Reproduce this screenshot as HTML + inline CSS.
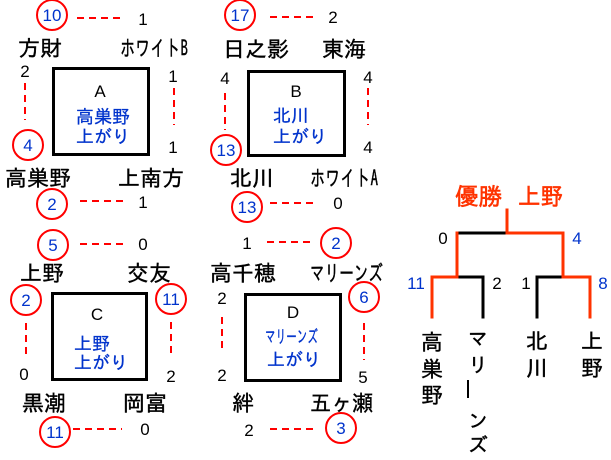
<!DOCTYPE html>
<html><head><meta charset="utf-8"><style>
html,body{margin:0;padding:0;background:#fff;}
svg{display:block;}
.j{font-family:"IPAGothic","Noto Sans CJK JP",sans-serif;}
.n{font-family:"Liberation Sans",sans-serif;font-size:17px;text-anchor:middle;}
.b{fill:#0033cc;}
.k{fill:#000;}
</style></head><body>
<svg width="611" height="460" viewBox="0 0 611 460" xmlns="http://www.w3.org/2000/svg">
<g fill="#fff" stroke="#000" stroke-width="3">
<rect x="53.5" y="68.5" width="95" height="86"/>
<rect x="248.5" y="71.5" width="96" height="84"/>
<rect x="52.5" y="293.5" width="94" height="86"/>
<rect x="245.5" y="294.5" width="95" height="86"/>
</g>
<g stroke="#ff0000" stroke-width="2" stroke-dasharray="7 5" fill="none">
<line x1="77" y1="18" x2="122" y2="18"/>
<line x1="25" y1="83" x2="25" y2="120"/>
<line x1="174" y1="88" x2="174" y2="125"/>
<line x1="80" y1="201" x2="128" y2="201"/>
<line x1="270" y1="17" x2="317" y2="17"/>
<line x1="225" y1="93" x2="225" y2="130"/>
<line x1="368" y1="88" x2="368" y2="125"/>
<line x1="270" y1="203" x2="317" y2="203"/>
<line x1="80" y1="244" x2="128" y2="244"/>
<line x1="26" y1="323" x2="26" y2="357"/>
<line x1="171" y1="322" x2="171" y2="357"/>
<line x1="73" y1="429" x2="122" y2="429"/>
<line x1="267" y1="242" x2="315" y2="242"/>
<line x1="364" y1="323" x2="364" y2="360"/>
<line x1="222" y1="317" x2="222" y2="353"/>
<line x1="270" y1="429" x2="317" y2="429"/>
</g>
<g fill="#fff" stroke="#ff0000" stroke-width="2">
<circle cx="52" cy="15" r="15"/>
<circle cx="28" cy="145" r="15"/>
<circle cx="52" cy="204" r="15"/>
<circle cx="240" cy="15" r="15"/>
<circle cx="226" cy="150" r="15"/>
<circle cx="247" cy="207" r="15"/>
<circle cx="53" cy="245" r="15"/>
<circle cx="26" cy="300" r="15"/>
<circle cx="171" cy="299" r="15"/>
<circle cx="55" cy="432" r="15"/>
<circle cx="336" cy="243" r="15"/>
<circle cx="364" cy="297" r="15"/>
<circle cx="341" cy="428" r="15"/>
</g>
<g class="n b">
<text x="52" y="21">10</text>
<text x="28" y="151">4</text>
<text x="52" y="210">2</text>
<text x="240" y="21">17</text>
<text x="226" y="156">13</text>
<text x="247" y="213">13</text>
<text x="53" y="251">5</text>
<text x="26" y="306">2</text>
<text x="171" y="305">11</text>
<text x="55" y="438">11</text>
<text x="336" y="249">2</text>
<text x="364" y="303">6</text>
<text x="341" y="434">3</text>
<text x="577" y="244">4</text>
<text x="416" y="289">11</text>
<text x="603" y="289">8</text>
</g>
<g class="n k">
<text x="143" y="25">1</text>
<text x="25" y="77">2</text>
<text x="173" y="82">1</text>
<text x="173" y="153">1</text>
<text x="143" y="208">1</text>
<text x="100" y="97">A</text>
<text x="333" y="23">2</text>
<text x="225" y="84">4</text>
<text x="368" y="83">4</text>
<text x="368" y="153">4</text>
<text x="338" y="209">0</text>
<text x="296" y="97">B</text>
<text x="143" y="250">0</text>
<text x="24" y="380">0</text>
<text x="171" y="382">2</text>
<text x="97" y="320">C</text>
<text x="145" y="435">0</text>
<text x="247" y="249">1</text>
<text x="363" y="383">5</text>
<text x="222" y="304">2</text>
<text x="222" y="381">2</text>
<text x="293" y="318">D</text>
<text x="249" y="436">2</text>
<text x="443" y="244">0</text>
<text x="497" y="289">2</text>
<text x="526" y="289">1</text>
</g>
<g class="j k" font-size="22" stroke="#000" stroke-width="0.4">
<text x="18" y="56">方財</text>
<text x="120" y="56" textLength="68" lengthAdjust="spacingAndGlyphs">ホワイトB</text>
<text x="5" y="186">高巣野</text>
<text x="118" y="186">上南方</text>
<text x="223" y="57">日之影</text>
<text x="322" y="57">東海</text>
<text x="230" y="186">北川</text>
<text x="310" y="186" textLength="68" lengthAdjust="spacingAndGlyphs">ホワイトA</text>
<text x="20" y="281">上野</text>
<text x="127" y="281">交友</text>
<text x="22" y="411">黒潮</text>
<text x="123" y="411">岡富</text>
<text x="210" y="281">高千穂</text>
<text x="310" y="281" textLength="73" lengthAdjust="spacingAndGlyphs">マリーンズ</text>
<text x="232" y="411">絆</text>
<text x="310" y="411" textLength="63" lengthAdjust="spacingAndGlyphs">五ヶ瀬</text>
</g>
<g class="j b" font-size="18" stroke="#0033cc" stroke-width="0.3">
<text x="76" y="123">高巣野</text>
<text x="76" y="143">上がり</text>
<text x="273" y="122">北川</text>
<text x="273" y="143">上がり</text>
<text x="74" y="350">上野</text>
<text x="74" y="369">上がり</text>
<text x="265" y="343" textLength="53" lengthAdjust="spacingAndGlyphs">マリーンズ</text>
<text x="267" y="366">上がり</text>
</g>
<g class="j" font-size="24" fill="#ff3300" stroke="#ff3300" stroke-width="0.6">
<text x="455" y="205" textLength="47" lengthAdjust="spacingAndGlyphs">優勝</text>
<text x="518" y="205" textLength="45" lengthAdjust="spacingAndGlyphs">上野</text>
</g>
<g stroke-width="3" fill="none" stroke-linecap="square">
<path d="M457 233 H507 M457 277 H483 V317 M537 317 V277 H563" stroke="#000"/>
<path d="M507 210 V233 H563 V277 H590 V317 M457 233 V277 H432 V317" stroke="#ff3300"/>
</g>
<g class="j k" font-size="22" text-anchor="middle" stroke="#000" stroke-width="0.4">
<text x="432" y="350">高</text>
<text x="432" y="377">巣</text>
<text x="432" y="403">野</text>
<text x="537" y="349">北</text>
<text x="537" y="376">川</text>
<text x="592" y="349">上</text>
<text x="592" y="376">野</text>
</g>
<g class="j k" font-size="20" text-anchor="middle" stroke="#000" stroke-width="0.4">
<text x="478" y="346">マ</text>
<text x="478" y="372">リ</text>
<text x="478" y="428">ン</text>
<text x="478" y="452">ズ</text>
</g>
<line x1="468" y1="380" x2="468" y2="398" stroke="#000" stroke-width="2"/>
</svg>
</body></html>
